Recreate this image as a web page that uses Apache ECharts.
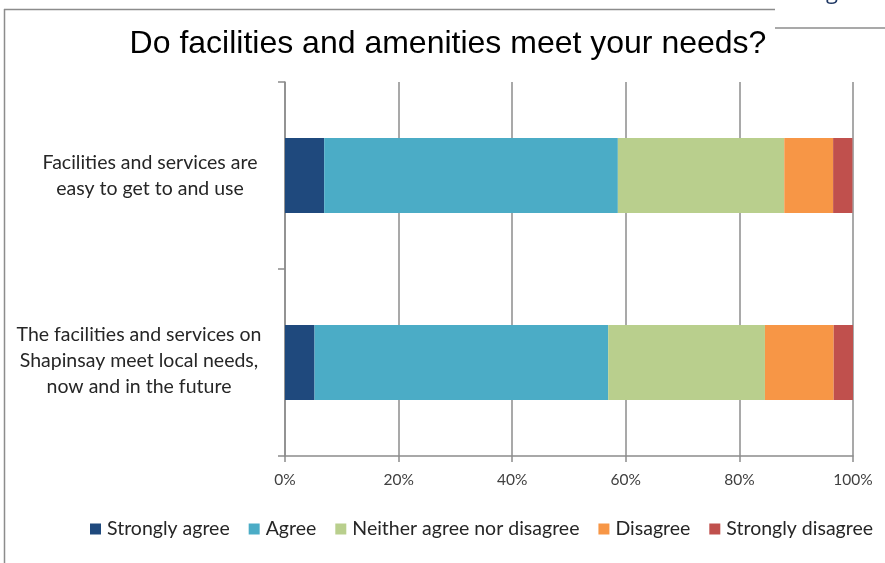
<!DOCTYPE html>
<html>
<head>
<meta charset="utf-8">
<script src="https://cdn.jsdelivr.net/npm/echarts@6/dist/echarts.min.js"></script>
<style>
  html, body { margin: 0; padding: 0; background: #fff; }
  #chart { width: 885px; height: 563px; }
</style>
</head>
<body>
<div id="chart"></div>
<script>
// Survey statements (top to bottom) and response shares in percent
var categories = [
  'Facilities and services are\neasy to get to and use',
  'The facilities and services on\nShapinsay meet local needs,\nnow and in the future'
];
var seriesNames = ['Strongly agree', 'Agree', 'Neither agree nor disagree', 'Disagree', 'Strongly disagree'];
var stronglyAgree    = [6.9, 5.2];
var agree            = [51.7, 51.7];
var neither          = [29.3, 27.6];
var disagree         = [8.6, 12.1];
var stronglyDisagree = [3.4, 3.4];
var xTicks = [0, 20, 40, 60, 80, 100];

var colors = ['#1F497D', '#4BACC6', '#B9CF8D', '#F79646', '#C0504D'];
var values = [stronglyAgree, agree, neither, disagree, stronglyDisagree];

var chart = echarts.init(document.getElementById('chart'), null, { renderer: 'canvas' });

var axisGray = '#8C8C8C';
var font = 'Lato, "Open Sans", sans-serif';
var labelSize = 19.5;

var series = seriesNames.map(function (name, i) {
  return {
    name: name,
    type: 'bar',
    stack: 'total',
    barWidth: 75,
    itemStyle: { color: colors[i] },
    emphasis: { disabled: true },
    data: values[i]
  };
});

chart.setOption({
  animation: false,
  color: colors,
  title: {
    text: 'Do facilities and amenities meet your needs?',
    left: 443,
    top: 23,
    textAlign: 'center',
    textStyle: {
      fontFamily: '"Liberation Sans", Arial, sans-serif',
      fontSize: 32,
      fontWeight: 'normal',
      color: '#000'
    }
  },
  legend: {
    data: seriesNames,
    left: 85,
    top: 514,
    itemWidth: 11,
    itemHeight: 11,
    itemGap: 19,
    icon: 'rect',
    textStyle: { fontFamily: font, fontSize: labelSize, color: '#262626', padding: [0, 0, 0, 1] }
  },
  grid: { left: 285, right: 32, top: 82, bottom: 107, containLabel: false },
  xAxis: {
    type: 'value',
    min: xTicks[0],
    max: xTicks[xTicks.length - 1],
    interval: 20,
    axisLine: { show: true, lineStyle: { color: axisGray, width: 1.5 } },
    axisTick: { show: true, length: 6, lineStyle: { color: axisGray, width: 1.5 } },
    splitLine: { show: true, lineStyle: { color: axisGray, width: 1.5 } },
    axisLabel: {
      margin: 16,
      formatter: '{value}%',
      fontFamily: font,
      fontSize: 15.5,
      color: '#404040'
    }
  },
  yAxis: {
    type: 'category',
    inverse: true,
    data: categories,
    axisLine: { show: true, lineStyle: { color: axisGray, width: 1.5 } },
    axisTick: { show: true, length: 7, lineStyle: { color: axisGray, width: 1.5 } },
    axisLabel: {
      margin: 135,
      align: 'center',
      lineHeight: 26,
      fontFamily: font,
      fontSize: labelSize,
      color: '#262626',
      formatter: function (value, idx) {
        var key = idx === 0 ? 'a' : 'b';
        return value.split('\n').map(function (l) { return '{' + key + '|' + l + '}'; }).join('\n');
      },
      rich: {
        a: { fontFamily: font, fontSize: labelSize, color: '#262626', lineHeight: 26 },
        b: { fontFamily: font, fontSize: labelSize, color: '#262626', lineHeight: 26, padding: [0, 22, 4, 0] }
      }
    }
  },
  graphic: [
    // outer frame of the chart area
    { type: 'line', shape: { x1: 4.5, y1: 9, x2: 4.5, y2: 563 }, style: { stroke: '#8C8C8C', lineWidth: 1.5 } },
    { type: 'line', shape: { x1: 4, y1: 9.5, x2: 775, y2: 9.5 }, style: { stroke: '#8C8C8C', lineWidth: 1.5 } },
    // page heading fragment and rule at the top right
    { type: 'line', shape: { x1: 775, y1: 28, x2: 885, y2: 28 }, style: { stroke: '#8C8C8C', lineWidth: 1.5 } },
    { type: 'text', left: 826, top: -18, style: { text: 'g', font: '22px "Open Sans", sans-serif', fill: '#1F3864' } }
  ],
  series: series
});
</script>
</body>
</html>
